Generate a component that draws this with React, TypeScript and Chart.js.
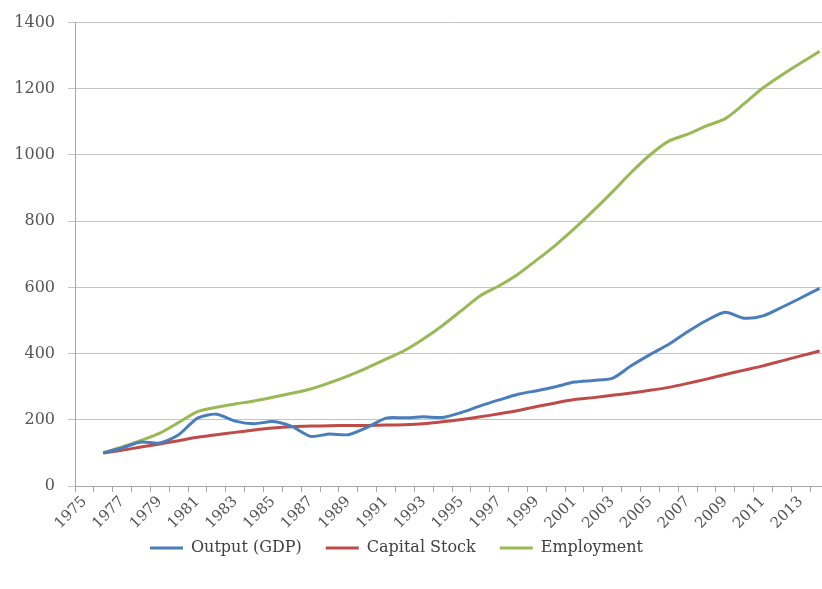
import React, { useEffect, useRef } from 'react';
import { Chart, registerables } from 'chart.js';

Chart.register(...registerables);

const years = [
  '1975', '1976', '1977', '1978', '1979', '1980', '1981', '1982', '1983', '1984',
  '1985', '1986', '1987', '1988', '1989', '1990', '1991', '1992', '1993', '1994',
  '1995', '1996', '1997', '1998', '1999', '2000', '2001', '2002', '2003', '2004',
  '2005', '2006', '2007', '2008', '2009', '2010', '2011', '2012', '2013', '2014',
];

const outputGDP = [
  null, 100, 115, 133, 130, 155, 205, 217, 196, 188,
  195, 180, 150, 157, 155, 177, 205, 206, 209, 207,
  222, 242, 260, 277, 288, 300, 314, 319, 325, 363,
  397, 428, 466, 500, 525, 507, 514, 540, 568, 597,
];

const capitalStock = [
  null, 100, 108, 118, 127, 137, 147, 155, 162, 169,
  175, 179, 181, 182, 183, 183, 184, 185, 188, 194,
  201, 209, 218, 228, 240, 251, 261, 267, 274, 281,
  289, 298, 310, 323, 337, 350, 363, 378, 393, 408,
];

const employment = [
  null, 100, 118, 138, 160, 192, 225, 238, 248, 257,
  268, 280, 293, 312, 333, 357, 383, 410, 445, 485,
  530, 575, 605, 640, 683, 728, 778, 832, 888, 947,
  1000, 1042, 1063, 1088, 1110, 1155, 1203, 1242, 1278, 1313,
];

const yMin = 0;
const yMax = 1400;
const yStep = 200;

const seriesNames = ['Output (GDP)', 'Capital Stock', 'Employment'];
const seriesColors = ['#4A7EBB', '#BE4B48', '#98B954'];

const FONT = '"DejaVu Serif", serif';

const legendShift = {
  id: 'legendShift',
  afterLayout(chart: any) {
    const lg = chart.legend;
    if (!lg || !lg.lineWidths) return;
    const p = lg.options.labels.padding;
    const lw = lg.lineWidths[0];
    const currentX = (lg.left + p + lg.right - lw) / 2;
    const dx = 150 - currentX;
    lg.left += dx;
    lg.right += dx;
    const fontSize = lg.options.labels.font.size;
    const currentY = lg.top + p + fontSize / 2;
    const dy = 548 - currentY;
    lg.top += dy;
    lg.bottom += dy;
  },
};

export default function App() {
  const ref = useRef<HTMLCanvasElement | null>(null);

  useEffect(() => {
    if (!ref.current) return;
    const chart = new Chart(ref.current, {
      type: 'line',
      data: {
        labels: years,
        datasets: [
          { label: seriesNames[0], data: outputGDP, borderColor: seriesColors[0], backgroundColor: seriesColors[0] },
          { label: seriesNames[1], data: capitalStock, borderColor: seriesColors[1], backgroundColor: seriesColors[1] },
          { label: seriesNames[2], data: employment, borderColor: seriesColors[2], backgroundColor: seriesColors[2] },
        ].map((d) => ({
          ...d,
          borderWidth: 3,
          pointRadius: 0,
          pointHoverRadius: 0,
          tension: 0.25,
          fill: false,
          spanGaps: false,
        })),
      },
      plugins: [legendShift],
      options: {
        responsive: false,
        animation: false,
        events: [],
        layout: { padding: { top: 21, left: 0, right: 11, bottom: 0 } },
        scales: {
          x: {
            type: 'category',
            offset: true,
            grid: {
              display: true,
              drawOnChartArea: false,
              drawTicks: true,
              tickLength: 6,
              offset: true,
              color: '#a6a6a6',
            },
            border: { display: true, color: '#a6a6a6', width: 1 },
            ticks: {
              autoSkip: false,
              maxRotation: 45,
              minRotation: 45,
              padding: 1,
              color: '#555555',
              font: { family: FONT, size: 15 },
              callback: (_v: any, i: number) => (i % 2 === 0 ? years[i] : ''),
            },
            afterFit: (s: any) => {
              s.height = 53;
            },
          },
          y: {
            min: yMin,
            max: yMax,
            grid: {
              color: '#c4c4c4',
              lineWidth: 1,
              drawTicks: true,
              tickLength: 7,
            },
            border: { display: true, color: '#a6a6a6', width: 1 },
            ticks: {
              stepSize: yStep,
              padding: 13,
              color: '#555555',
              font: { family: FONT, size: 16 },
              callback: (v: any) => String(v),
            },
            afterFit: (s: any) => {
              s.width = 75;
            },
          },
        },
        plugins: {
          tooltip: { enabled: false },
          title: { display: false },
          legend: {
            display: true,
            position: 'bottom',
            labels: {
              usePointStyle: true,
              pointStyle: 'line',
              pointStyleWidth: 33,
              padding: 24,
              color: '#404040',
              font: { family: FONT, size: 16 },
            },
          },
        },
      },
    } as any);
    return () => chart.destroy();
  }, []);

  return (
    <div
      style={{
        position: 'fixed',
        left: 0,
        top: 0,
        width: 822,
        height: 589,
        overflow: 'hidden',
        background: '#ffffff',
      }}
    >
      <canvas ref={ref} width={840} height={589} style={{ display: 'block' }} />
    </div>
  );
}
